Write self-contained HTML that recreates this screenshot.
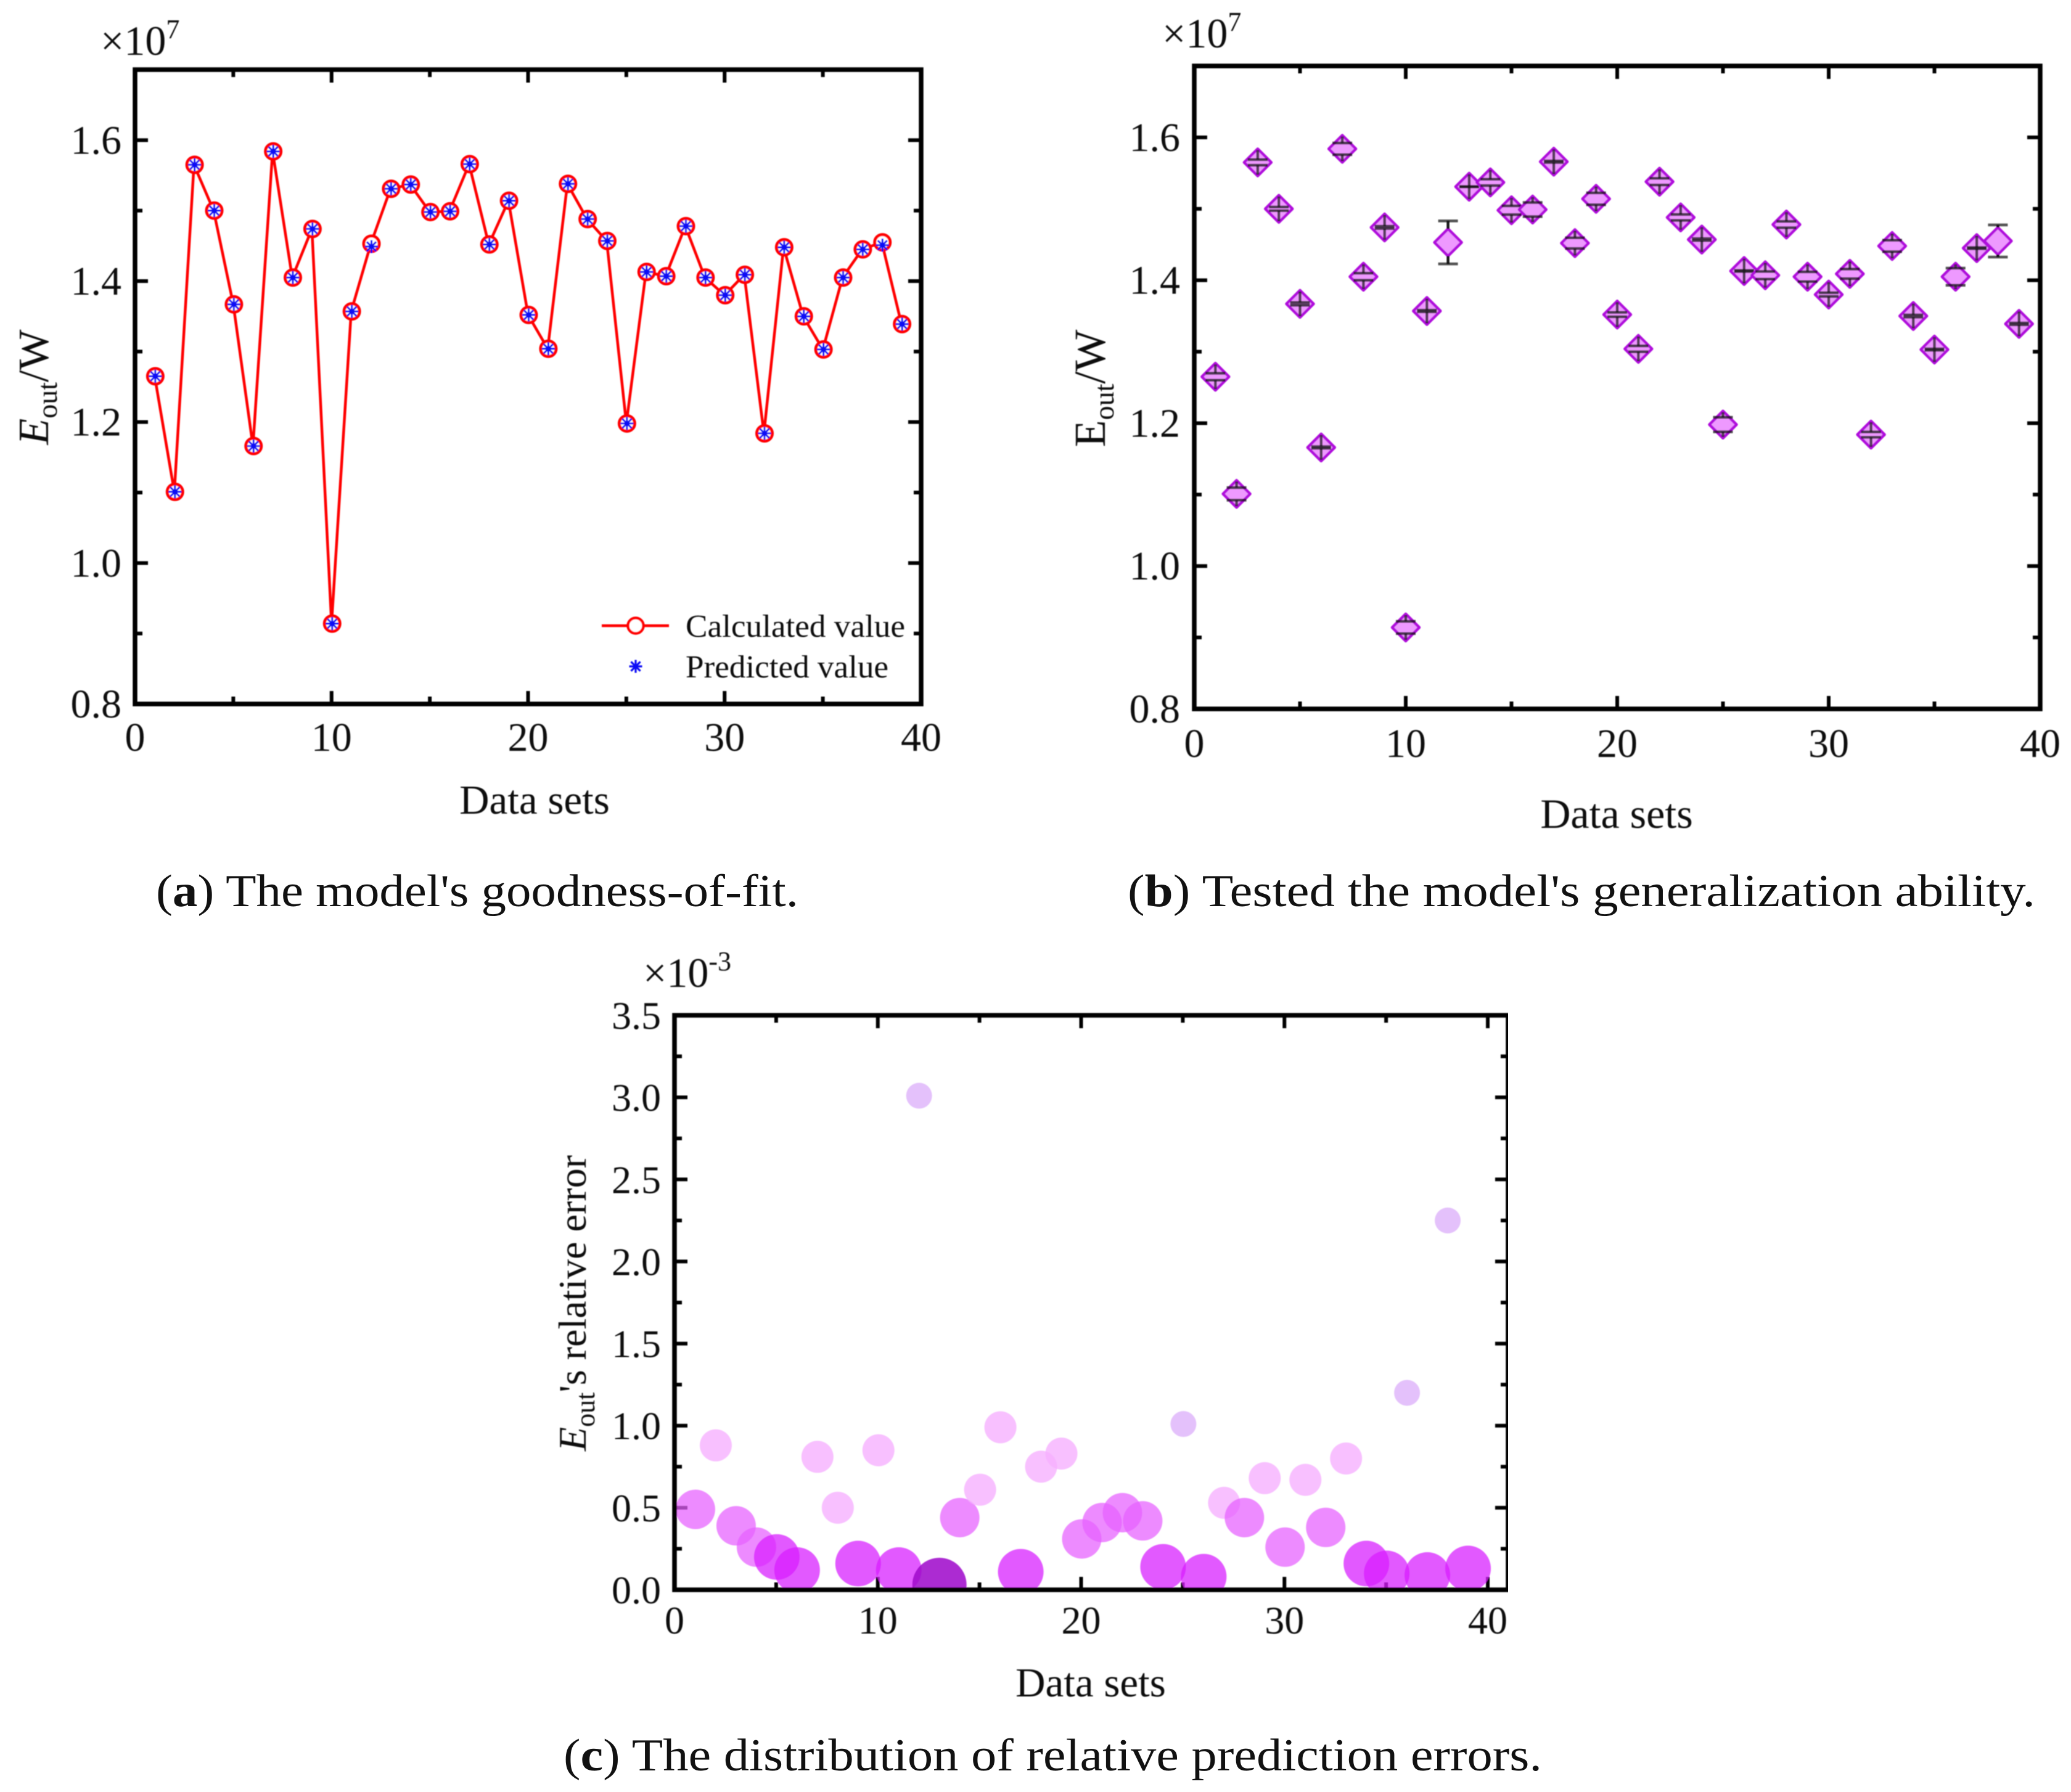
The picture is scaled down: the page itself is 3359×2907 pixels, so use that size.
<!DOCTYPE html>
<html lang="en">
<head>
<meta charset="utf-8">
<title>Model fit charts</title>
<style>
html,body{margin:0;padding:0;background:#fff;}
svg{display:block;}
text{font-family:"Liberation Serif",serif;fill:#111;}
</style>
</head>
<body>
<svg id="figure" xmlns="http://www.w3.org/2000/svg" width="3359" height="2907" viewBox="0 0 3359 2907">
<defs><filter id="soft" x="0" y="0" width="1" height="1" filterUnits="objectBoundingBox"><feGaussianBlur stdDeviation="0.9"/></filter></defs>
</svg>
<script>
// Data sets 1..39
const dataSets = [1,2,3,4,5,6,7,8,9,10,11,12,13,14,15,16,17,18,19,20,21,22,23,24,25,26,27,28,29,30,31,32,33,34,35,36,37,38,39];
// Panel (a), units of 1e7 W
const calculatedValues = [1.265,1.101,1.565,1.500,1.367,1.166,1.584,1.405,1.474,0.914,1.357,1.453,1.531,1.537,1.498,1.499,1.566,1.452,1.514,1.352,1.304,1.538,1.488,1.457,1.198,1.413,1.407,1.478,1.405,1.380,1.409,1.184,1.448,1.350,1.303,1.405,1.445,1.455,1.339];
const predictedValues = [1.265,1.101,1.565,1.500,1.367,1.166,1.584,1.405,1.474,0.914,1.357,1.449,1.531,1.537,1.498,1.499,1.566,1.452,1.514,1.352,1.304,1.538,1.488,1.457,1.198,1.413,1.407,1.478,1.405,1.380,1.409,1.184,1.448,1.350,1.303,1.405,1.445,1.451,1.339];
// Panel (b), units of 1e7 W
const testedValues = [1.265,1.101,1.565,1.500,1.367,1.166,1.584,1.405,1.474,0.914,1.357,1.453,1.531,1.537,1.498,1.499,1.566,1.452,1.514,1.352,1.304,1.538,1.488,1.457,1.198,1.413,1.407,1.478,1.405,1.380,1.409,1.184,1.448,1.350,1.303,1.405,1.445,1.455,1.339];
const testedErrors = [0.0049,0.0088,0.0039,0.0026,0.0020,0.0012,0.0081,0.0050,0.0016,0.0085,0.0012,0.0301,0.0003,0.0044,0.0061,0.0099,0.0011,0.0075,0.0083,0.0031,0.0041,0.0047,0.0042,0.0014,0.0101,0.0008,0.0053,0.0044,0.0068,0.0026,0.0067,0.0038,0.0080,0.0016,0.0010,0.0120,0.0009,0.0225,0.0013];
// Panel (c), units of 1e-3
const relativeErrors = [0.49,0.88,0.39,0.26,0.20,0.12,0.81,0.50,0.16,0.85,0.12,3.01,0.03,0.44,0.61,0.99,0.11,0.75,0.83,0.31,0.41,0.47,0.42,0.14,1.01,0.08,0.53,0.44,0.68,0.26,0.67,0.38,0.80,0.16,0.10,1.20,0.09,2.25,0.13];
const xTickLabelsAB = ['0','10','20','30','40'];
const yTickLabelsAB = ['0.8','1.0','1.2','1.4','1.6'];
const yTickLabelsC = ['0.0','0.5','1.0','1.5','2.0','2.5','3.0','3.5'];

const NS = 'http://www.w3.org/2000/svg';
const root = document.getElementById('figure');
function el(parent, tag, attrs, txt){
  const e = document.createElementNS(NS, tag);
  for(const k in attrs) e.setAttribute(k, attrs[k]);
  if(txt !== undefined) e.textContent = txt;
  parent.appendChild(e);
  return e;
}
function scale(d0,d1,p0,p1){ return v => p0 + (v-d0)*(p1-p0)/(d1-d0); }
function group(parent, name){
  const g = el(parent,'g',{});
  
  
  return g;
}
function tagged(e, name){
  
  
  return e;
}

function drawTicks(g, box, X, Y, xMajor, xMinor, yMajor, yMinor){
  const L = 21, M = 12;
  const st = {stroke:'#000','stroke-width':6};
  xMinor.forEach(v=>{
    const major = xMajor.includes(v), len = major?L:M, x = X(v);
    if(x>box.x0+2){
      el(g,'line',Object.assign({x1:x,x2:x,y1:box.y1,y2:box.y1-len},st));
      el(g,'line',Object.assign({x1:x,x2:x,y1:box.y0,y2:box.y0+len},st));
    }
  });
  yMinor.forEach(v=>{
    const major = yMajor.includes(v), len = major?L:M, y = Y(v);
    if(y<box.y1-2 && y>box.y0+2){
      el(g,'line',Object.assign({y1:y,y2:y,x1:box.x0,x2:box.x0+len},st));
      el(g,'line',Object.assign({y1:y,y2:y,x1:box.x1,x2:box.x1-len},st));
    }
  });
}
function drawFrame(g, box){
  el(g,'rect',{x:box.x0,y:box.y0,width:box.x1-box.x0,height:box.y1-box.y0,fill:'none',stroke:'#000','stroke-width':7.5});
}
function tickText(g, name, x, y, s, anchor, size){
  const t = el(g,'text',{x:x,y:y,'font-size':size,'text-anchor':anchor},s);
  
  
}
function multiplier(g, x, y, expo){
  const t = el(g,'text',{x:x,y:y,'font-size':68});
  
  
  el(t,'tspan',{},'×10');
  el(t,'tspan',{'font-size':44,dy:-27},expo);
}
function yTitle(g, x, y, size, parts){
  const t = el(g,'text',{transform:'translate('+x+','+y+') rotate(-90)','font-size':size,'text-anchor':'middle'});
  
  
  parts.forEach(p=>{ el(t,'tspan',p.attrs||{},p.s); });
}
function caption(letter, rest, x, y, w){
  const t = el(root,'text',{x:x,y:y,'font-size':74,textLength:w,lengthAdjust:'spacingAndGlyphs'});
  
  
  el(t,'tspan',{},'(');
  el(t,'tspan',{'font-weight':'bold'},letter);
  el(t,'tspan',{},') '+rest);
}

/* ---------- Panel A ---------- */
(function(){
  const g = group(root,'panel-a-goodness-of-fit');
  g.setAttribute('filter','url(#soft)');
  const box = {x0:219,x1:1494,y0:113,y1:1142};
  const X = scale(0,40,box.x0,box.x1), Y = scale(0.8,1.7,box.y1,box.y0);
  const xMaj = xTickLabelsAB.map(Number), yMaj = yTickLabelsAB.map(Number);
  const xMin = [0,5,10,15,20,25,30,35,40], yMin = [0.9,1.1,1.3,1.5].concat(yMaj);
  drawTicks(group(g,'ticks-a'),box,X,Y,xMaj,xMin,yMaj,yMin);
  drawFrame(tagged(el(g,'g',{}),'plot-frame-a'),box);
  xTickLabelsAB.forEach(s=>tickText(g,'x-tick-label',X(+s),1218,s,'middle',66));
  yTickLabelsAB.forEach(s=>tickText(g,'y-tick-label',197,Y(+s)+22,s,'end',66));
  tickText(g,'x-axis-title',867,1320,'Data sets','middle',67);
  yTitle(g,78,628,70,[{s:'E',attrs:{'font-style':'italic'}},{s:'out',attrs:{'font-size':46,dy:14}},{s:'/W',attrs:{dy:-14}}]);
  multiplier(g,163,89,'7');

  const line = tagged(el(g,'polyline',{
    points:dataSets.map((d,i)=>X(d)+','+Y(calculatedValues[i])).join(' '),
    fill:'none',stroke:'#f00','stroke-width':4.5,'stroke-linejoin':'round'
  }),'calculated-line');
  const circles = group(g,'calculated-markers');
  dataSets.forEach((d,i)=>{
    const c = el(circles,'circle',{cx:X(d)+1,cy:Y(calculatedValues[i]),r:12.5,fill:'#fff',stroke:'#f00','stroke-width':5});
    
    
  });
  function star(parent,cx,cy,r,w,name){
    const s = el(parent,'g',{stroke:'#0a0af5','stroke-width':w});
    
    
    [[1,0],[0,1],[0.72,0.72],[0.72,-0.72]].forEach(a=>{
      el(s,'line',{x1:cx-a[0]*r,y1:cy-a[1]*r,x2:cx+a[0]*r,y2:cy+a[1]*r});
    });
  }
  const stars = group(g,'predicted-markers');
  dataSets.forEach((d,i)=>star(stars,X(d)+1,Y(predictedValues[i]),10.5,3.2,'predicted-point'));

  const lg = group(g,'legend');
  tagged(el(lg,'line',{x1:976,x2:1085,y1:1015,y2:1015,stroke:'#f00','stroke-width':4.5}),'legend-line-calculated');
  tagged(el(lg,'circle',{cx:1031,cy:1015,r:12.5,fill:'#fff',stroke:'#f00','stroke-width':4.5}),'legend-marker-calculated');
  el(lg,'text',{x:1112,y:1033,'font-size':52,textLength:356,lengthAdjust:'spacingAndGlyphs'},'Calculated value');
  
  
  star(lg,1031,1081,10.5,3.2,'legend-marker-predicted');
  el(lg,'text',{x:1112,y:1099,'font-size':52,textLength:329,lengthAdjust:'spacingAndGlyphs'},'Predicted value');
  
  
})();

/* ---------- Panel B ---------- */
(function(){
  const g = group(root,'panel-b-generalization');
  g.setAttribute('filter','url(#soft)');
  const box = {x0:1937,x1:3309,y0:107,y1:1150};
  const X = scale(0,40,box.x0,box.x1), Y = scale(0.8,1.7,box.y1,box.y0);
  const xMaj = xTickLabelsAB.map(Number), yMaj = yTickLabelsAB.map(Number);
  const xMin = [0,5,10,15,20,25,30,35,40], yMin = [0.9,1.1,1.3,1.5].concat(yMaj);
  drawTicks(group(g,'ticks-b'),box,X,Y,xMaj,xMin,yMaj,yMin);
  drawFrame(tagged(el(g,'g',{}),'plot-frame-b'),box);
  xTickLabelsAB.forEach(s=>tickText(g,'x-tick-label',X(+s),1228,s,'middle',66));
  yTickLabelsAB.forEach(s=>tickText(g,'y-tick-label',1914,Y(+s)+22,s,'end',66));
  tickText(g,'x-axis-title',2622,1343,'Data sets','middle',68);
  yTitle(g,1792,630,72,[{s:'E'},{s:'out',attrs:{'font-size':46,dy:14}},{s:'/W',attrs:{dy:-14}}]);
  multiplier(g,1885,77,'7');

  const H = 22, CAP = 16;
  const pts = group(g,'tested-points');
  dataSets.forEach((d,i)=>{
    const cx = X(d), cy = Y(testedValues[i]);
    const e = Y(testedValues[i]-testedErrors[i]) - cy;
    const pg = el(pts,'g',{});
    
    
    el(pg,'polygon',{points:[[cx,cy-H],[cx+H,cy],[cx,cy+H],[cx-H,cy]].map(p=>p.join(',')).join(' '),fill:'#ee99ff',stroke:'#b010dc','stroke-width':4.5,'stroke-linejoin':'round'});
    const outer = Math.max(e,H-2), inner = e<H?Math.max(e,0):H;
    const strokeOp = e<H?0.68:0.95;
    [[-outer,-inner],[inner,outer]].forEach(a=>{
      el(pg,'line',{x1:cx,x2:cx,y1:cy+a[0],y2:cy+a[1],stroke:'#101010','stroke-width':4.5,'stroke-opacity':strokeOp});
    });
    [-e,e].forEach(o=>{
      el(pg,'line',{x1:cx-CAP,x2:cx+CAP,y1:cy+o,y2:cy+o,stroke:'#101010','stroke-width':4.5,'stroke-opacity':0.72});
    });
  });
})();

/* ---------- Panel C ---------- */
(function(){
  const g = group(root,'panel-c-relative-errors');
  g.setAttribute('filter','url(#soft)');
  const box = {x0:1094,x1:2446,y0:1647,y1:2579};
  const X = scale(0,41,box.x0,box.x1), Y = scale(0,3.5,box.y1,box.y0);
  const xMaj = xTickLabelsAB.map(Number), yMaj = yTickLabelsC.map(Number);
  const xMin = [0,5,10,15,20,25,30,35,40], yMin = [0.25,0.75,1.25,1.75,2.25,2.75,3.25].concat(yMaj);
  drawTicks(group(g,'ticks-c'),box,X,Y,xMaj,xMin,yMaj,yMin);
  const cp = el(root.querySelector('defs'),'clipPath',{id:'clip-c'});
  el(cp,'rect',{x:box.x0,y:box.y0,width:box.x1-box.x0,height:box.y1-box.y0});
  const pts = group(g,'error-bubbles');
  pts.setAttribute('clip-path','url(#clip-c)');
  function radius(v){ return v<0.05?44 : v<0.25?37 : v<0.5?32 : v<1.0?26 : 21; }
  function colour(v){ return v<0.05?'#a010cc' : v<0.25?'#d820ff' : v<0.5?'#e660ff' : v<1.0?'#f6b0ff' : '#dcb0fa'; }
  function alpha(v){ return v<0.05?0.88 : v<0.25?0.75 : v<0.5?0.72 : v<1.0?0.8 : 0.78; }
  dataSets.forEach((d,i)=>{
    const v = relativeErrors[i];
    const c = el(pts,'circle',{cx:X(d)+1,cy:Y(v),r:radius(v),fill:colour(v),'fill-opacity':alpha(v)});
    
    
  });
  drawFrame(tagged(el(g,'g',{}),'plot-frame-c'),box);
  xTickLabelsAB.forEach(s=>tickText(g,'x-tick-label',X(+s),2650,s,'middle',64));
  yTickLabelsC.forEach(s=>tickText(g,'y-tick-label',1072,Y(+s)+22,s,'end',64));
  tickText(g,'x-axis-title',1769,2752,'Data sets','middle',67);
  yTitle(g,950,2114,64,[{s:'E',attrs:{'font-style':'italic'}},{s:'out',attrs:{'font-size':44,dy:14}},{s:"'s relative error",attrs:{dy:-14}}]);
  multiplier(g,1043,1601,'-3');
})();

caption('a',"The model's goodness-of-fit.",253,1470,1042);
caption('b',"Tested the model's generalization ability.",1829,1470,1472);
caption('c',"The distribution of relative prediction errors.",914,2872,1587);
</script>
</body>
</html>
